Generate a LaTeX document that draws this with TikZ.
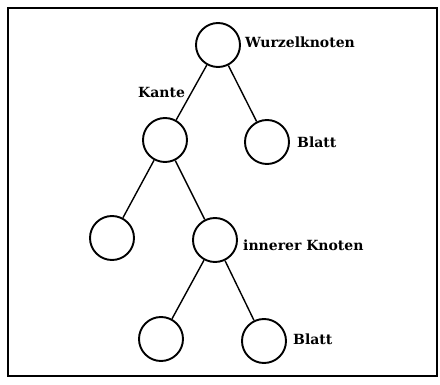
\documentclass[tikz,border=0pt]{standalone}
\usepackage{fontspec}
\setmainfont{DejaVu Serif}
\begin{document}
\begin{tikzpicture}[x=1pt,y=-1pt,
  knot/.style={circle,draw,line width=1.9pt,minimum size=44pt,inner sep=0pt},
  lab/.style={font=\fontsize{14}{16}\selectfont\bfseries,inner sep=0pt,anchor=west},
  edge/.style={line width=1.4pt}]
\useasboundingbox (0,0) rectangle (440,385);
\draw[line width=1.8pt] (8,8) rectangle (437,376);
\node[knot] (r) at (218,45) {};
\node[knot] (a) at (165,140) {};
\node[knot] (b) at (267,142) {};
\node[knot] (c) at (112,238) {};
\node[knot] (d) at (215,240) {};
\node[knot] (e) at (161,339) {};
\node[knot] (f) at (264,341) {};
\draw[edge] (r) -- (a);
\draw[edge] (r) -- (b);
\draw[edge] (a) -- (c);
\draw[edge] (a) -- (d);
\draw[edge] (d) -- (e);
\draw[edge] (d) -- (f);
\node[lab] (lw) at (245,42) {Wurzelknoten};
\node[lab] (lk) at (138,92) {Kante};
\node[lab] (lb1) at (297,142) {Blatt};
\node[lab] (li) at (243,245) {innerer Knoten};
\node[lab] (lb2) at (293,339) {Blatt};
\end{tikzpicture}
\end{document}
